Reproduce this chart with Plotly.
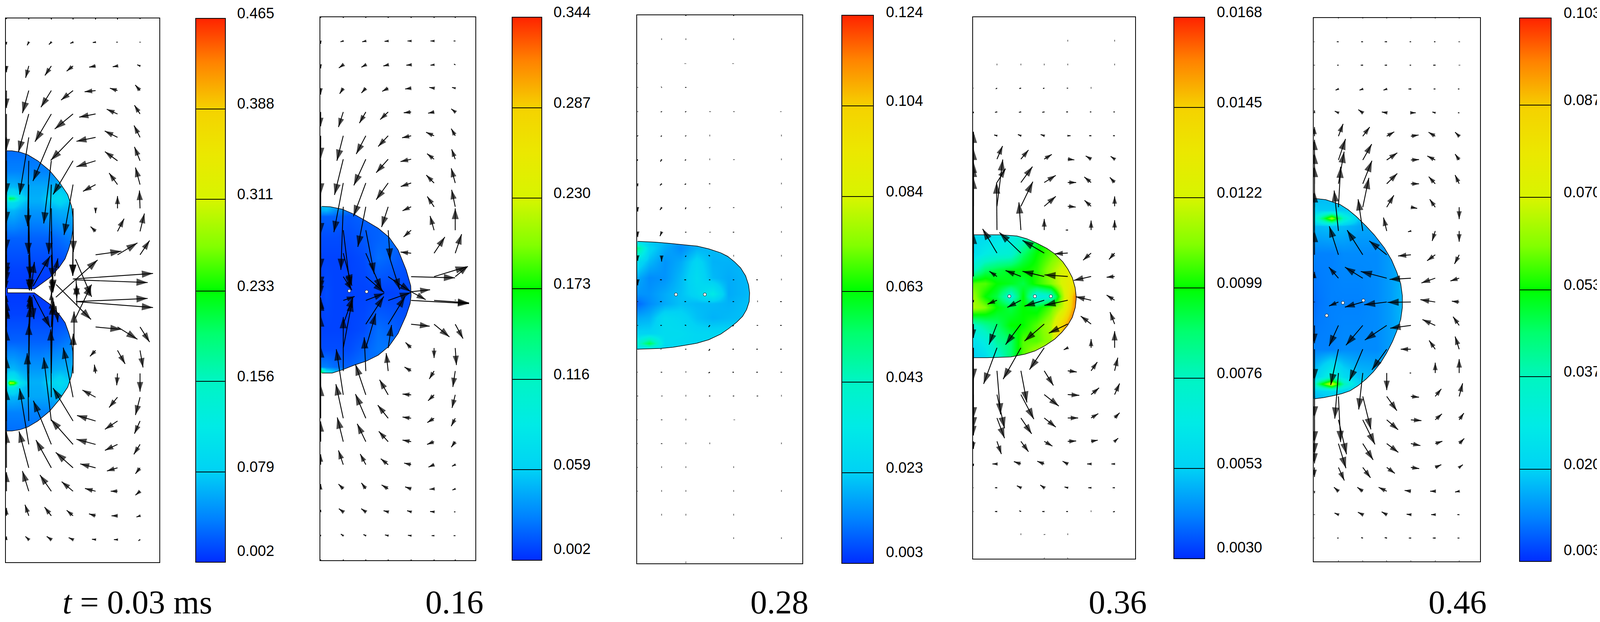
import math
import plotly.graph_objects as go

# vector field and droplet values
# all x / y below are in each frame's own picture units, y grows downwards
times = ["<i>t</i> = 0.03 ms", "0.16", "0.28", "0.36", "0.46"]

cbar_003 = [0.002, 0.079, 0.156, 0.233, 0.311, 0.388, 0.465]
cbar_016 = [0.002, 0.059, 0.116, 0.173, 0.230, 0.287, 0.344]
cbar_028 = [0.003, 0.023, 0.043, 0.063, 0.084, 0.104, 0.124]
cbar_036 = [0.0030, 0.0053, 0.0076, 0.0099, 0.0122, 0.0145, 0.0168]
cbar_046 = [0.003, 0.020, 0.037, 0.053, 0.070, 0.087, 0.103]
cbar_text_003 = ["0.002", "0.079", "0.156", "0.233", "0.311", "0.388", "0.465"]
cbar_text_016 = ["0.002", "0.059", "0.116", "0.173", "0.230", "0.287", "0.344"]
cbar_text_028 = ["0.003", "0.023", "0.043", "0.063", "0.084", "0.104", "0.124"]
cbar_text_036 = ["0.0030", "0.0053", "0.0076", "0.0099", "0.0122", "0.0145", "0.0168"]
cbar_text_046 = ["0.003", "0.020", "0.037", "0.053", "0.070", "0.087", "0.103"]

# t = 0.03
cols_003 = [33, 145, 258, 367, 480, 590, 703]
rows_003 = [46, 106, 166, 228, 287, 346, 405, 465, 525, 583, 642, 703, 763, 824, 883, 941, 1001, 1061, 1120, 1179, 1238, 1300, 1360, 1420]
uv_003 = [
    [(0, 2), (0, 3), (0, 3), (0, 3), (0, 3), (0, 3), (0, 2)],
    [(0, 6), (-8, 8), (-12, 6), (-14, 3), (-14, 1), (-6, 0), (-3, 0)],
    [(0, 16), (-16, 30), (-32, 24), (-32, 13), (-32, 3), (-24, 2), (-14, -3)],
    [(0, 44), (-32, 57), (-52, 42), (-60, 24), (-55, 3), (-38, -6), (-24, -14)],
    [(0, 91), (-52, 96), (-82, 70), (-92, 38), (-82, 8), (-54, -12), (-28, -22)],
    [(0, 144), (-46, 144), (-92, 110), (-112, 58), (-96, 10), (-64, -16), (-30, -30)],
    [(0, 157), (-6, 165), (-38, 158), (-100, 85), (-96, 15), (-63, -23), (-28, -35)],
    [(0, 167), (-3, 175), (-13, 175), (-45, 127), (-63, 17), (-42, -29), (-23, -43)],
    [(0, 165), (5, 175), (5, 178), (2, 110), (0, 12), (0, -31), (-3, -45)],
    [(0, 117), (13, 150), (10, 150), (-2, 112), (-25, -12), (33, -32), (22, -45)],
    [(0, 72), (4, 90), (8, 95), (0, 0), (130, -9), (100, -30), (48, -36)],
    [(0, 22), (2, 28), (2, 40), (0, 0), (0, 0), (0, 0), (0, 0)],
    [(0, -18), (3, -18), (0, -25), (0, 0), (0, 0), (0, 0), (0, 0)],
    [(0, -69), (8, -79), (8, -74), (0, 0), (130, 6), (100, 31), (48, 38)],
    [(0, -113), (10, -133), (12, -123), (0, 0), (-28, 15), (38, 34), (15, 43)],
    [(0, -166), (5, -170), (7, -176), (1, -100), (-6, -22), (-4, 30), (0, 46)],
    [(0, -171), (0, -185), (-3, -171), (-49, -125), (-66, -18), (-42, 26), (-23, 45)],
    [(0, -161), (-8, -171), (-38, -160), (-100, -83), (-93, -14), (-63, 21), (-28, 32)],
    [(0, -140), (-46, -141), (-90, -110), (-111, -63), (-96, -13), (-63, 15), (-31, 25)],
    [(0, -91), (-49, -92), (-77, -70), (-87, -39), (-77, -10), (-53, 8), (-23, 15)],
    [(0, -48), (-32, -51), (-57, -41), (-57, -24), (-53, -7), (-34, 0), (-23, 10)],
    [(0, -20), (-19, -28), (-34, -22), (-32, -14), (-33, -5), (-30, 0), (-18, 3)],
    [(0, -8), (-17, -8), (-23, -8), (-22, -5), (-18, -1), (-18, 0), (-8, 3)],
    [(0, -2), (0, -3), (0, -3), (0, -3), (0, -3), (0, -3), (0, -2)],
]
extra_003 = [
    (281, 749, 490, 655), (282, 717, 457, 805), (379, 653, 460, 748), (379, 802, 460, 717),
    (366, 703, 768, 689), (375, 705, 741, 712), (382, 760, 741, 752), (382, 760, 768, 775),
    (160, 716, 173, 660), (167, 721, 252, 645), (275, 696, 291, 651), (160, 748, 171, 804),
    (167, 743, 252, 825), (281, 771, 291, 812), (372, 870, 372, 785), (382, 703, 386, 752),
    (386, 770, 384, 715), (368, 595, 366, 695),
]
drop_x_003 = [35, 60, 100, 140, 190, 250, 300, 340, 360, 367, 366, 358, 345, 327, 300, 252, 173, 38, 38, 173, 252, 300, 327, 345, 358, 366, 367, 360, 340, 300, 250, 190, 140, 100, 60, 35]
drop_y_003 = [380, 380, 383, 390, 405, 430, 460, 490, 520, 550, 580, 605, 628, 652, 672, 699, 728, 727, 738, 738, 767, 794, 813, 838, 861, 886, 916, 946, 976, 1006, 1036, 1061, 1076, 1083, 1086, 1086]
grid_x_003 = [35, 50, 70, 100, 150, 200, 250, 300, 370]
grid_y_003 = [378, 430, 470, 490, 500, 510, 530, 600, 680, 730, 740, 790, 860, 930, 955, 965, 975, 1000, 1040, 1088]
grid_z_003 = [
    [0.030, 0.030, 0.030, 0.030, 0.030, 0.030, 0.030, 0.030, 0.030],
    [0.039, 0.039, 0.039, 0.039, 0.039, 0.039, 0.039, 0.039, 0.039],
    [0.066, 0.066, 0.066, 0.062, 0.058, 0.058, 0.058, 0.070, 0.062],
    [0.085, 0.100, 0.100, 0.080, 0.060, 0.060, 0.072, 0.085, 0.066],
    [0.130, 0.215, 0.200, 0.104, 0.062, 0.062, 0.081, 0.095, 0.070],
    [0.085, 0.100, 0.100, 0.080, 0.060, 0.060, 0.072, 0.085, 0.066],
    [0.062, 0.066, 0.066, 0.058, 0.050, 0.050, 0.058, 0.062, 0.062],
    [0.025, 0.025, 0.025, 0.025, 0.025, 0.025, 0.025, 0.030, 0.040],
    [0.011, 0.011, 0.011, 0.011, 0.011, 0.011, 0.011, 0.011, 0.011],
    [0.007, 0.007, 0.007, 0.007, 0.007, 0.007, 0.007, 0.007, 0.007],
    [0.007, 0.007, 0.007, 0.007, 0.007, 0.007, 0.007, 0.007, 0.007],
    [0.011, 0.011, 0.011, 0.011, 0.011, 0.011, 0.011, 0.011, 0.011],
    [0.025, 0.025, 0.025, 0.025, 0.025, 0.025, 0.025, 0.030, 0.040],
    [0.062, 0.066, 0.066, 0.058, 0.050, 0.050, 0.058, 0.062, 0.062],
    [0.085, 0.110, 0.110, 0.080, 0.060, 0.060, 0.072, 0.085, 0.066],
    [0.130, 0.300, 0.280, 0.110, 0.062, 0.062, 0.081, 0.095, 0.070],
    [0.085, 0.110, 0.110, 0.080, 0.060, 0.060, 0.072, 0.085, 0.066],
    [0.066, 0.066, 0.066, 0.062, 0.058, 0.058, 0.058, 0.070, 0.062],
    [0.039, 0.039, 0.039, 0.039, 0.039, 0.039, 0.039, 0.039, 0.039],
    [0.030, 0.030, 0.030, 0.030, 0.030, 0.030, 0.030, 0.030, 0.030],
]
holes_x_003 = []
holes_y_003 = []

# t = 0.16
cols_016 = [42, 155, 268, 380, 495, 610, 716]
rows_016 = [43, 103, 163, 222, 282, 342, 401, 461, 521, 580, 638, 697, 757, 817, 877, 935, 995, 1054, 1113, 1171, 1232, 1290, 1350, 1412]
uv_016 = [
    [(0, 2), (0, 2), (0, 2), (0, 2), (0, 2), (0, 2), (0, 2)],
    [(0, 7), (-14, 2), (-18, 2), (-18, 1), (-18, 0), (-18, 0), (-8, 0)],
    [(0, 9), (-22, 8), (-22, 6), (-24, 3), (-24, 1), (-18, 1), (-6, -2)],
    [(0, 16), (-18, 14), (-22, 12), (-30, 8), (-30, 2), (-24, -2), (-16, -2)],
    [(0, 36), (-24, 38), (-32, 28), (-40, 19), (-37, 2), (-30, 3), (-20, -8)],
    [(0, 58), (-32, 63), (-48, 46), (-50, 27), (-45, 5), (-40, -9), (-20, -18)],
    [(0, 89), (-44, 90), (-60, 66), (-60, 34), (-53, 6), (-35, -14), (-18, -25)],
    [(0, 129), (-47, 124), (-62, 84), (-60, 42), (-52, 9), (-39, -20), (-20, -37)],
    [(0, 159), (-12, 159), (-40, 101), (-33, 51), (-43, 10), (-34, -26), (-18, -43)],
    [(0, 145), (35, 145), (42, 110), (10, 74), (-38, 17), (-20, -36), (0, -55)],
    [(0, 97), (43, 82), (79, 92), (58, 92), (-53, -3), (54, -41), (32, -48)],
    [(0, 48), (43, 34), (92, 40), (113, 38), (220, 3), (163, -25), (63, -26)],
    [(0, -7), (57, -10), (92, -18), (114, -20), (290, 8), (175, 6), (0, 1)],
    [(0, -67), (50, -70), (90, -70), (85, -70), (93, 5), (77, 32), (39, 36)],
    [(0, -122), (45, -120), (50, -87), (17, -58), (-28, -14), (0, 25), (6, 43)],
    [(0, -140), (0, -136), (-8, -85), (-10, -45), (-33, -10), (-24, 20), (-12, 40)],
    [(0, -122), (-35, -115), (-52, -77), (-43, -38), (-43, -2), (-30, 15), (-16, 33)],
    [(0, -84), (-37, -86), (-52, -61), (-52, -33), (-43, -3), (-34, 11), (-20, 20)],
    [(0, -51), (-30, -61), (-43, -45), (-47, -26), (-43, -4), (-35, 7), (-20, 14)],
    [(0, -26), (-24, -36), (-28, -27), (-37, -15), (-35, -4), (-28, 6), (-16, 4)],
    [(0, -12), (-24, -12), (-22, -15), (-33, -10), (-30, -5), (-23, 1), (-14, 3)],
    [(0, -5), (-22, -8), (-23, -8), (-23, -3), (-20, -3), (-20, -1), (-6, 0)],
    [(0, -2), (-12, -4), (-12, -3), (-16, -2), (-16, -1), (-12, 0), (-8, 0)],
    [(0, -2), (0, -2), (0, -2), (0, -2), (0, -2), (0, -2), (0, -2)],
]
extra_016 = [(495, 735, 590, 730), (495, 735, 568, 755)]
drop_x_016 = [48, 90, 150, 210, 270, 330, 385, 430, 470, 493, 495, 490, 470, 430, 385, 330, 270, 210, 150, 100, 48]
drop_y_016 = [520, 521, 527, 540, 557, 575, 598, 630, 680, 720, 745, 765, 795, 840, 872, 895, 910, 920, 932, 940, 940]
grid_x_016 = [45, 70, 110, 180, 260, 330, 400, 495]
grid_y_016 = [518, 530, 545, 600, 650, 738, 830, 880, 925, 935, 942]
grid_z_016 = [
    [0.050, 0.053, 0.043, 0.029, 0.019, 0.016, 0.016, 0.009],
    [0.046, 0.050, 0.036, 0.026, 0.019, 0.016, 0.016, 0.012],
    [0.019, 0.019, 0.019, 0.016, 0.019, 0.019, 0.019, 0.012],
    [0.012, 0.012, 0.012, 0.012, 0.016, 0.019, 0.023, 0.012],
    [0.009, 0.009, 0.009, 0.009, 0.012, 0.023, 0.019, 0.012],
    [0.009, 0.012, 0.009, 0.009, 0.009, 0.009, 0.009, 0.012],
    [0.009, 0.009, 0.009, 0.009, 0.012, 0.023, 0.019, 0.012],
    [0.012, 0.012, 0.012, 0.012, 0.019, 0.026, 0.026, 0.012],
    [0.029, 0.029, 0.023, 0.019, 0.026, 0.019, 0.019, 0.012],
    [0.139, 0.070, 0.050, 0.029, 0.029, 0.019, 0.019, 0.012],
    [0.156, 0.088, 0.050, 0.029, 0.029, 0.019, 0.019, 0.012],
]
holes_x_016 = [185, 272]
holes_y_016 = [733, 735]

# t = 0.28, almost at rest
cols_028 = [63, 183, 305, 425, 545, 665, 785]
rows_028 = [38, 99, 160, 220, 281, 342, 402, 463, 523, 585, 645, 705, 760, 820, 880, 938, 998, 1058, 1118, 1178, 1238, 1298, 1357, 1418]
uv_028 = [
    [(0, 0), (0, 0), (0, 2), (0, 0), (0, 2), (0, 0), (0, 0)],
    [(0, 0), (0, 1), (0, 1), (0, 0), (0, 1), (0, 0), (0, 0)],
    [(1, 0), (0, 0), (1, 0), (0, 0), (1, 0), (0, 0), (0, 0)],
    [(2, 0), (1, 1), (-4, 0), (0, 0), (0, 0), (0, 0), (0, 0)],
    [(2, 0), (-4, 1), (-4, 1), (-2, 0), (-2, 0), (0, 0), (1, 0)],
    [(-3, 1), (-4, 2), (-4, 1), (0, 1), (0, 0), (0, 0), (0, 1)],
    [(-4, 3), (-6, 5), (-5, 2), (0, 1), (-2, 0), (0, 0), (0, 1)],
    [(0, 6), (-8, 4), (-6, 2), (-4, 0), (0, 0), (0, 0), (0, 1)],
    [(0, 10), (-8, 6), (-3, 4), (-3, 1), (-3, 0), (0, 0), (0, 1)],
    [(0, 12), (-8, 10), (-4, 0), (-2, 0), (-4, 0), (0, 0), (0, 1)],
    [(0, 12), (0, 14), (-3, 2), (-6, -2), (0, 1), (0, 0), (0, 1)],
    [(0, 14), (-8, 0), (-8, 0), (-4, 0), (-4, 0), (-6, 0), (0, 1)],
    [(2, 0), (-8, 0), (-7, 0), (-7, 0), (-5, 0), (0, 1), (-6, 0)],
    [(2, 0), (-6, 0), (-5, -1), (-6, 4), (-6, 2), (-4, 0), (-6, 0)],
    [(2, 0), (1, 0), (-4, 0), (-5, 4), (-6, 0), (-6, 0), (-6, 0)],
    [(1, 0), (-4, 0), (0, 1), (-6, 2), (-6, 0), (-6, 0), (-4, 0)],
    [(2, 0), (-2, 0), (0, 1), (-4, 0), (-4, 0), (-4, 0), (0, 1)],
    [(1, 0), (-3, 0), (0, 1), (0, 0), (-1, 0), (0, 0), (0, 0)],
    [(1, 0), (-3, 0), (0, 1), (0, 1), (0, 0), (0, 0), (0, 1)],
    [(1, 0), (0, 1), (0, 1), (0, 0), (0, 1), (0, 0), (0, 0)],
    [(1, 0), (0, 1), (0, 1), (0, 0), (0, 1), (0, 0), (0, 1)],
    [(0, 0), (0, 1), (0, 1), (0, 0), (0, 1), (0, 0), (0, 0)],
    [(0, 0), (0, 0), (0, 0), (0, 0), (0, 1), (0, 0), (0, 1)],
    [(0, 0), (0, 0), (0, 1), (0, 0), (0, 0), (0, 0), (0, 0)],
]
extra_028 = []
drop_x_028 = [63, 150, 220, 300, 360, 420, 480, 515, 550, 580, 605, 620, 625, 623, 610, 590, 560, 520, 480, 420, 360, 300, 240, 180, 63]
drop_y_028 = [608, 610, 613, 617, 620, 627, 637, 646, 660, 675, 695, 718, 738, 760, 780, 797, 812, 828, 842, 856, 865, 870, 875, 878, 880]
grid_x_028 = [63, 120, 200, 280, 360, 440, 520, 625]
grid_y_028 = [608, 625, 660, 700, 740, 765, 800, 840, 865, 882]
grid_z_028 = [
    [0.027, 0.022, 0.020, 0.015, 0.019, 0.021, 0.021, 0.022],
    [0.051, 0.025, 0.018, 0.014, 0.019, 0.020, 0.021, 0.022],
    [0.027, 0.020, 0.015, 0.018, 0.025, 0.019, 0.019, 0.020],
    [0.018, 0.014, 0.015, 0.020, 0.027, 0.020, 0.018, 0.020],
    [0.015, 0.015, 0.018, 0.021, 0.025, 0.033, 0.018, 0.020],
    [0.010, 0.014, 0.018, 0.021, 0.020, 0.020, 0.019, 0.021],
    [0.018, 0.019, 0.027, 0.025, 0.021, 0.019, 0.020, 0.021],
    [0.024, 0.024, 0.027, 0.027, 0.025, 0.025, 0.025, 0.025],
    [0.039, 0.057, 0.027, 0.026, 0.025, 0.025, 0.025, 0.025],
    [0.024, 0.024, 0.024, 0.024, 0.024, 0.024, 0.024, 0.024],
]
holes_x_028 = [255, 400]
holes_y_028 = [742, 742]

# t = 0.36
cols_036 = [82, 200, 320, 437, 555, 672, 790]
rows_036 = [43, 103, 163, 222, 282, 342, 401, 460, 520, 580, 638, 697, 757, 817, 877, 935, 995, 1054, 1113, 1170, 1230, 1290, 1348, 1409]
uv_036 = [
    [(0, 0), (0, 0), (0, 0), (0, 0), (0, 0), (0, 0), (0, 0)],
    [(0, 0), (0, 0), (0, 0), (0, 0), (0, 1), (0, 0), (0, 1)],
    [(0, 0), (0, 1), (0, 1), (0, 1), (0, 1), (0, 0), (0, 1)],
    [(1, 0), (-6, 2), (-8, 1), (-6, 1), (-5, 0), (0, 1), (0, 0)],
    [(0, 3), (-10, 1), (-10, 1), (-10, 1), (-8, 0), (-6, 0), (-6, 0)],
    [(0, -8), (-14, -2), (-15, -3), (-18, -3), (14, 0), (-10, 0), (-8, 0)],
    [(0, -69), (28, -33), (38, -23), (38, -12), (33, 2), (-27, -8), (-20, -7)],
    [(0, -85), (43, -35), (58, -40), (58, -18), (42, 0), (-34, -14), (-24, -13)],
    [(0, -112), (29, -118), (60, -62), (58, -25), (40, 2), (-33, -15), (0, -25)],
    [(0, -162), (-2, -120), (-10, -70), (0, -28), (-10, 0), (0, -24), (0, -25)],
    [(0, -190), (-72, -61), (-108, -52), (-109, -32), (-66, 2), (-40, 18), (-28, 16)],
    [(0, -110), (-38, -13), (-77, -15), (-109, -13), (-117, -4), (-87, 10), (-40, 2)],
    [(0, 5), (-47, 10), (-68, 18), (-99, 15), (-117, 13), (-77, -9), (-40, -13)],
    [(0, 35), (-40, 52), (-77, 52), (-99, 43), (-95, 23), (-52, -20), (-23, -30)],
    [(0, 81), (-67, 91), (-89, 79), (-74, 55), (-20, 5), (0, -22), (0, -42)],
    [(0, 120), (18, 110), (30, 80), (46, 37), (45, 3), (31, -22), (16, -33)],
    [(0, 85), (38, 85), (65, 62), (73, 29), (58, 2), (40, -17), (25, -28)],
    [(0, 44), (38, 51), (54, 40), (58, 23), (52, 0), (36, -11), (25, -13)],
    [(0, 19), (22, 32), (38, 26), (41, 12), (42, -1), (33, -3), (18, -8)],
    [(0, 5), (-23, 0), (-35, -6), (-35, -7), (-26, -7), (-20, 0), (-16, 0)],
    [(1, 0), (-10, 0), (-20, -5), (-20, -7), (-16, -2), (-14, 0), (-10, 0)],
    [(1, 0), (-10, 0), (-8, -2), (-10, 0), (-8, 0), (0, 1), (-8, 1)],
    [(0, 0), (0, 0), (0, 1), (-2, 0), (0, 1), (0, 0), (0, 0)],
    [(0, 0), (0, 0), (0, 0), (0, 1), (0, 1), (0, 0), (0, 0)],
]
extra_036 = []
drop_x_036 = [82, 220, 300, 350, 400, 450, 490, 530, 555, 578, 592, 598, 593, 578, 555, 525, 490, 440, 390, 340, 270, 150, 82]
drop_y_036 = [592, 592, 595, 602, 613, 626, 640, 660, 678, 700, 725, 750, 775, 800, 820, 838, 855, 872, 885, 893, 900, 902, 902]
grid_x_036 = [82, 140, 200, 270, 330, 400, 470, 530, 575, 598]
grid_y_036 = [592, 640, 680, 715, 747, 775, 820, 860, 902]
grid_z_036 = [
    [0.0055, 0.0056, 0.0060, 0.0065, 0.0071, 0.0092, 0.0106, 0.0071, 0.0071, 0.0085],
    [0.0058, 0.0065, 0.0069, 0.0071, 0.0088, 0.0099, 0.0106, 0.0113, 0.0085, 0.0099],
    [0.0074, 0.0088, 0.0092, 0.0096, 0.0099, 0.0102, 0.0113, 0.0124, 0.0129, 0.0127],
    [0.0106, 0.0106, 0.0099, 0.0096, 0.0092, 0.0102, 0.0110, 0.0124, 0.0134, 0.0140],
    [0.0113, 0.0099, 0.0092, 0.0069, 0.0099, 0.0065, 0.0071, 0.0116, 0.0145, 0.0158],
    [0.0116, 0.0110, 0.0099, 0.0092, 0.0099, 0.0096, 0.0106, 0.0120, 0.0148, 0.0158],
    [0.0074, 0.0082, 0.0088, 0.0099, 0.0099, 0.0106, 0.0116, 0.0145, 0.0162, 0.0155],
    [0.0060, 0.0067, 0.0082, 0.0088, 0.0106, 0.0106, 0.0113, 0.0160, 0.0162, 0.0150],
    [0.0052, 0.0058, 0.0071, 0.0088, 0.0106, 0.0120, 0.0134, 0.0155, 0.0158, 0.0147],
]
holes_x_036 = [262, 390, 470]
holes_y_036 = [747, 747, 747]

# t = 0.46
cols_046 = [125, 243, 363, 481, 600, 720, 838]
rows_046 = [45, 105, 164, 224, 284, 343, 403, 463, 522, 582, 642, 701, 761, 820, 880, 940, 999, 1058, 1118, 1178, 1238, 1297, 1356, 1415]
uv_046 = [
    [(0, 0), (0, 1), (0, 1), (0, 1), (0, 1), (0, 1), (0, 1)],
    [(1, 0), (-8, 0), (-8, 0), (-10, 0), (-6, 0), (-6, 0), (-3, 0)],
    [(2, 0), (-6, 0), (-10, 0), (-10, 0), (-6, 0), (-10, 0), (-2, 0)],
    [(2, 0), (-14, 3), (-16, 3), (-16, 3), (-12, 0), (-8, 0), (-6, 0)],
    [(0, -6), (-18, -4), (-22, -8), (-24, -2), (24, 0), (-14, -2), (-6, 0)],
    [(0, -23), (23, -31), (34, -23), (37, -11), (38, -3), (-33, -10), (-20, -10)],
    [(0, -51), (35, -53), (44, -40), (52, -18), (40, -1), (-39, -10), (-20, -15)],
    [(0, -78), (28, -81), (45, -58), (52, -26), (40, 0), (-32, -18), (-20, -22)],
    [(0, -104), (11, -102), (30, -74), (35, -30), (31, 3), (-27, -20), (0, 30)],
    [(0, -100), (-21, -102), (-23, -80), (-16, -34), (-14, 2), (-15, 25), (0, 27)],
    [(0, -60), (-45, -72), (-77, -62), (-86, -35), (-63, 3), (-40, 15), (-23, 23)],
    [(0, -16), (-47, -28), (-88, -28), (-128, -17), (-105, 3), (-68, 12), (-43, 7)],
    [(2, 0), (-46, 10), (-88, 13), (-111, 7), (-115, 1), (-73, -6), (-36, -2)],
    [(0, 45), (-46, 52), (-83, 50), (-108, 37), (-102, 7), (-63, -15), (-30, -22)],
    [(0, 78), (-38, 90), (-66, 80), (-73, 52), (-50, 0), (-30, -22), (-20, -32)],
    [(0, 112), (-18, 115), (-20, 92), (0, 43), (-6, 0), (0, -26), (0, -35)],
    [(0, 116), (11, 115), (40, 83), (50, 36), (40, 2), (30, -19), (17, -33)],
    [(0, 87), (40, 87), (60, 62), (56, 25), (52, 2), (33, -15), (23, -17)],
    [(0, 50), (37, 62), (51, 41), (57, 22), (47, 5), (35, -6), (25, -13)],
    [(0, 24), (29, 33), (38, 26), (40, 15), (41, 3), (30, -7), (18, -7)],
    [(0, 5), (-22, -10), (-27, -10), (-40, -10), (-31, -2), (-25, 0), (-20, 2)],
    [(2, 0), (-19, -4), (-24, -6), (-25, -7), (-21, -1), (-20, 0), (-9, 0)],
    [(1, 0), (-6, 0), (-8, -1), (-10, -1), (-10, 0), (-12, 0), (-8, 0)],
    [(0, 0), (0, 1), (0, 1), (0, 1), (0, 1), (0, 1), (0, 1)],
]
extra_046 = []
drop_x_046 = [125, 180, 250, 290, 330, 380, 420, 470, 505, 530, 550, 558, 558, 550, 530, 510, 480, 450, 415, 380, 340, 300, 260, 220, 170, 125]
drop_y_046 = [500, 503, 515, 528, 545, 570, 592, 625, 655, 685, 715, 745, 775, 805, 835, 860, 890, 915, 937, 955, 972, 985, 992, 997, 1002, 1005]
grid_x_046 = [125, 150, 210, 270, 340, 430, 500, 558]
grid_y_046 = [498, 530, 550, 570, 640, 760, 880, 950, 968, 985, 1006]
grid_z_046 = [
    [0.017, 0.017, 0.017, 0.017, 0.017, 0.018, 0.019, 0.019],
    [0.020, 0.019, 0.019, 0.019, 0.017, 0.018, 0.018, 0.018],
    [0.028, 0.038, 0.065, 0.035, 0.019, 0.017, 0.018, 0.018],
    [0.017, 0.017, 0.018, 0.017, 0.015, 0.015, 0.017, 0.018],
    [0.011, 0.011, 0.011, 0.012, 0.012, 0.012, 0.014, 0.016],
    [0.009, 0.010, 0.011, 0.011, 0.011, 0.012, 0.014, 0.017],
    [0.011, 0.011, 0.011, 0.012, 0.012, 0.012, 0.014, 0.016],
    [0.019, 0.023, 0.033, 0.023, 0.018, 0.017, 0.018, 0.018],
    [0.033, 0.048, 0.071, 0.038, 0.021, 0.017, 0.018, 0.018],
    [0.019, 0.020, 0.023, 0.020, 0.018, 0.017, 0.018, 0.018],
    [0.017, 0.017, 0.017, 0.017, 0.017, 0.017, 0.018, 0.018],
]
holes_x_046 = [265, 366, 185]
holes_y_046 = [763, 757, 795]

W, H = 4115, 1592
PAD = 8  # the page's own body margin
PLOT_W, PLOT_H = W - PAD, H - PAD


def fx(px):
    return (px - PAD) / PLOT_W


def fy(py):
    return 1 - (py - PAD) / PLOT_H


jet = [
    [0.0, "rgb(0,45,255)"], [0.08, "rgb(0,130,255)"], [1 / 6, "rgb(0,210,245)"], [0.25, "rgb(0,235,230)"],
    [1 / 3, "rgb(0,245,195)"], [0.42, "rgb(0,255,110)"], [0.5, "rgb(0,255,0)"], [0.58, "rgb(130,255,0)"],
    [2 / 3, "rgb(215,245,0)"], [0.75, "rgb(235,232,0)"], [5 / 6, "rgb(245,210,0)"], [0.92, "rgb(255,130,0)"],
    [1.0, "rgb(255,35,0)"],
]

# frame box, axis ranges, colorbar x span and label x / time label x, all in page pixels
panels = [
    dict(box=(15, 408, 47, 1439), xr=(30, 800), yr=(1417, 46), bar=(501, 577), lab=605, tx=351,
         cols=cols_003, rows=rows_003, uv=uv_003, extra=extra_003, dx=drop_x_003, dy=drop_y_003,
         gx=grid_x_003, gy=grid_y_003, gz=grid_z_003, hx=holes_x_003, hy=holes_y_003,
         cb=cbar_003, cbt=cbar_text_003, t=times[0]),
    dict(box=(820, 1217, 44, 1434), xr=(40, 817), yr=(1412, 43), bar=(1311, 1387), lab=1415, tx=1163,
         cols=cols_016, rows=rows_016, uv=uv_016, extra=extra_016, dx=drop_x_016, dy=drop_y_016,
         gx=grid_x_016, gy=grid_y_016, gz=grid_z_016, hx=holes_x_016, hy=holes_y_016,
         cb=cbar_016, cbt=cbar_text_016, t=times[1]),
    dict(box=(1631, 2054, 39, 1442), xr=(60, 890), yr=(1420, 38), bar=(2155, 2236), lab=2266, tx=1995,
         cols=cols_028, rows=rows_028, uv=uv_028, extra=extra_028, dx=drop_x_028, dy=drop_y_028,
         gx=grid_x_028, gy=grid_y_028, gz=grid_z_028, hx=holes_x_028, hy=holes_y_028,
         cb=cbar_028, cbt=cbar_text_028, t=times[2]),
    dict(box=(2491, 2906, 44, 1430), xr=(80, 893), yr=(1409, 43), bar=(3005, 3084), lab=3113, tx=2861,
         cols=cols_036, rows=rows_036, uv=uv_036, extra=extra_036, dx=drop_x_036, dy=drop_y_036,
         gx=grid_x_036, gy=grid_y_036, gz=grid_z_036, hx=holes_x_036, hy=holes_y_036,
         cb=cbar_036, cbt=cbar_text_036, t=times[3]),
    dict(box=(3363, 3789, 46, 1437), xr=(121, 941), yr=(1415, 45), bar=(3890, 3971), lab=4001, tx=3731,
         cols=cols_046, rows=rows_046, uv=uv_046, extra=extra_046, dx=drop_x_046, dy=drop_y_046,
         gx=grid_x_046, gy=grid_y_046, gz=grid_z_046, hx=holes_x_046, hy=holes_y_046,
         cb=cbar_046, cbt=cbar_text_046, t=times[4]),
]


def head_size(length):
    """Arrow head grows with the arrow, small ones are nearly all head."""
    if length < 14:
        return max(4, 1.2 * length)
    return min(30, 12 + 0.3 * length)


def add_panel(fig, n, p):
    x0, x1, y0, y1 = p["box"]
    xa, xb = p["xr"]
    yb, yt = p["yr"]
    xname = "x" if n == 1 else f"x{n}"
    yname = "y" if n == 1 else f"y{n}"
    sx = (x1 - x0) / (xb - xa)
    sy = (y1 - y0) / (yb - yt)

    bar0, bar1 = p["bar"]
    fig.add_trace(go.Heatmap(
        x=p["gx"], y=p["gy"], z=p["gz"], xaxis=xname, yaxis=yname,
        zmin=p["cb"][0], zmax=p["cb"][-1], zsmooth="best", colorscale=jet, hoverinfo="skip",
        colorbar=dict(
            x=fx(bar0), xanchor="left", xpad=0, ypad=0, y=fy(y1), yanchor="bottom",
            len=(y1 - y0) / PLOT_H, lenmode="fraction", thickness=bar1 - bar0, thicknessmode="pixels",
            outlinecolor="black", outlinewidth=2, tickvals=p["cb"], ticks="inside",
            ticklen=bar1 - bar0, tickwidth=2, tickcolor="black", showticklabels=False,
        ),
    ))

    # white out everything of the field that lies outside the droplet
    fig.add_trace(go.Scatter(
        x=p["dx"] + [xa, xa, xb, xb, xa, xa],
        y=p["dy"] + [p["dy"][-1], yb, yb, yt, yt, p["dy"][0]],
        xaxis=xname, yaxis=yname, mode="lines", fill="toself", fillcolor="white",
        line=dict(width=0), hoverinfo="skip",
    ))
    fig.add_trace(go.Scatter(
        x=p["dx"], y=p["dy"], xaxis=xname, yaxis=yname, mode="lines",
        line=dict(color="black", width=1.5), hoverinfo="skip",
    ))

    segs = []
    for r, row in zip(p["rows"], p["uv"]):
        for c, (u, v) in zip(p["cols"], row):
            if u or v:
                segs.append((c, r, c + u, r + v))
    segs += p["extra"]

    lx, ly, hx, hy, ang, size = [], [], [], [], [], []
    for a, b, c, d in segs:
        lx += [a, c, None]
        ly += [b, d, None]
        px, py = (c - a) * sx, (d - b) * sy
        hx.append(c)
        hy.append(d)
        ang.append(math.degrees(math.atan2(px, -py)))
        size.append(head_size(math.hypot(px, py)))
    fig.add_trace(go.Scatter(
        x=lx, y=ly, xaxis=xname, yaxis=yname, mode="lines",
        line=dict(color="black", width=2.2), hoverinfo="skip",
    ))
    fig.add_trace(go.Scatter(
        x=hx, y=hy, xaxis=xname, yaxis=yname, mode="markers", hoverinfo="skip",
        marker=dict(symbol="arrow", color="black", size=size, angle=ang, line=dict(width=0)),
    ))
    if p["hx"]:
        fig.add_trace(go.Scatter(
            x=p["hx"], y=p["hy"], xaxis=xname, yaxis=yname, mode="markers", hoverinfo="skip",
            marker=dict(symbol="circle", color="white", size=8, line=dict(color="black", width=1)),
        ))

    axis = dict(showgrid=False, zeroline=False, showticklabels=False, ticks="", showline=True,
                mirror=True, linecolor="black", linewidth=2)
    fig.update_layout({
        "xaxis" if n == 1 else f"xaxis{n}": dict(axis, domain=[fx(x0), fx(x1)], range=[xa, xb], anchor=yname),
        "yaxis" if n == 1 else f"yaxis{n}": dict(axis, domain=[fy(y1), fy(y0)], range=[yb, yt], anchor=xname),
    })

    # the scale labels sit a little above their lines, the lowest one well above
    span = p["cb"][-1] - p["cb"][0]
    for val, txt in zip(p["cb"], p["cbt"]):
        frac = (val - p["cb"][0]) / span
        shift = 29 if val == p["cb"][0] else 13
        ypix = max(31, y1 - frac * (y1 - y0) - shift)  # keep the top label inside the page
        fig.add_annotation(
            text=txt, xref="paper", yref="paper", x=fx(p["lab"]), y=fy(ypix), xanchor="left", yanchor="middle",
            showarrow=False, font=dict(family="Liberation Sans", size=38, color="black"),
        )
    fig.add_annotation(
        text=p["t"], xref="paper", yref="paper", x=fx(p["tx"]), y=fy(1541), xanchor="center", yanchor="middle",
        showarrow=False, font=dict(family="Liberation Serif", size=85, color="black"),
    )


fig = go.Figure()
for i, panel in enumerate(panels, start=1):
    add_panel(fig, i, panel)

fig.update_layout(
    width=PLOT_W, height=PLOT_H, showlegend=False, paper_bgcolor="white", plot_bgcolor="white",
    margin=dict(l=0, r=0, t=0, b=0, autoexpand=False),
)
fig.write_html("out.html")
